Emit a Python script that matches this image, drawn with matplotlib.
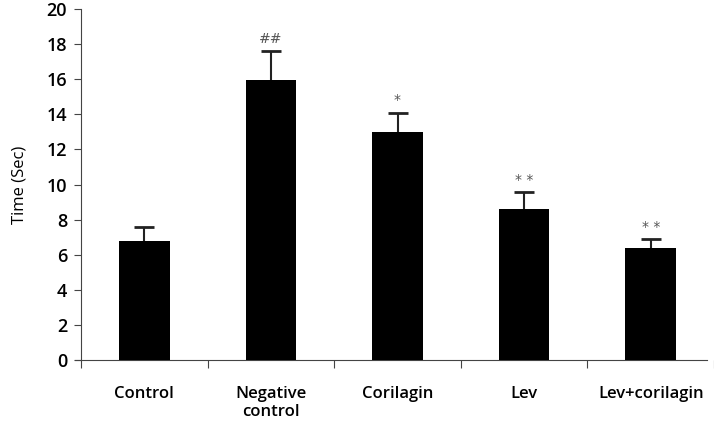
import numpy as np
import matplotlib.pyplot as plt
import matplotlib

matplotlib.rcParams['font.family'] = ['Open Sans', 'DejaVu Sans']

# data
groups = ['Control', 'Negative\ncontrol', 'Corilagin', 'Lev', 'Lev+corilagin']
means = [6.8, 15.95, 13.0, 8.6, 6.4]
errors = [0.8, 1.65, 1.1, 0.95, 0.5]
marks = ['', '##', '*', '* *', '* *']

fig = plt.figure(figsize=(7.14, 4.28), dpi=100)
ax = fig.add_axes([81 / 714, 1 - 360 / 428, 1 - 81 / 714, 351 / 428])

x = np.arange(len(groups))
ax.bar(x, means, width=0.4, color='black', zorder=3)
ax.errorbar(x, means, yerr=errors, fmt='none',
            ecolor='#222222', elinewidth=1.5, capsize=7, capthick=2, zorder=2)

for xi, m, e, s in zip(x, means, errors, marks):
    if s:
        ax.text(xi, m + e + 0.3, s, ha='center', va='bottom', fontsize=10,
                color='#555555', family='DejaVu Sans')

ax.set_xlim(-0.5, 4.445)
ax.set_ylim(0, 20)
ax.set_yticks(np.arange(0, 21, 2))
ax.set_xticks(np.arange(-0.5, 4.6, 1))
ax.set_xticklabels([])
ax.set_xticks(x, minor=True)
ax.set_xticklabels(groups, minor=True, fontsize=12, fontweight='semibold')
ax.tick_params(axis='x', which='minor', length=0, pad=19)
ax.tick_params(axis='x', which='major', length=6, direction='out', color='#444444')
ax.tick_params(axis='y', length=5, color='#444444', labelsize=13, pad=5)
for lab in ax.get_yticklabels():
    lab.set_fontweight('semibold')
for lab in ax.get_xticklabels(minor=True):
    lab.set_linespacing(1.15)

ax.spines['top'].set_visible(False)
ax.spines['right'].set_visible(False)
ax.spines['left'].set_color('#444444')
ax.spines['bottom'].set_color('#444444')
ax.spines['bottom'].set_bounds(-0.55, 4.445)

ax.set_ylabel('Time (Sec)', fontsize=12, labelpad=14)

fig.savefig('out.png', dpi=100)
